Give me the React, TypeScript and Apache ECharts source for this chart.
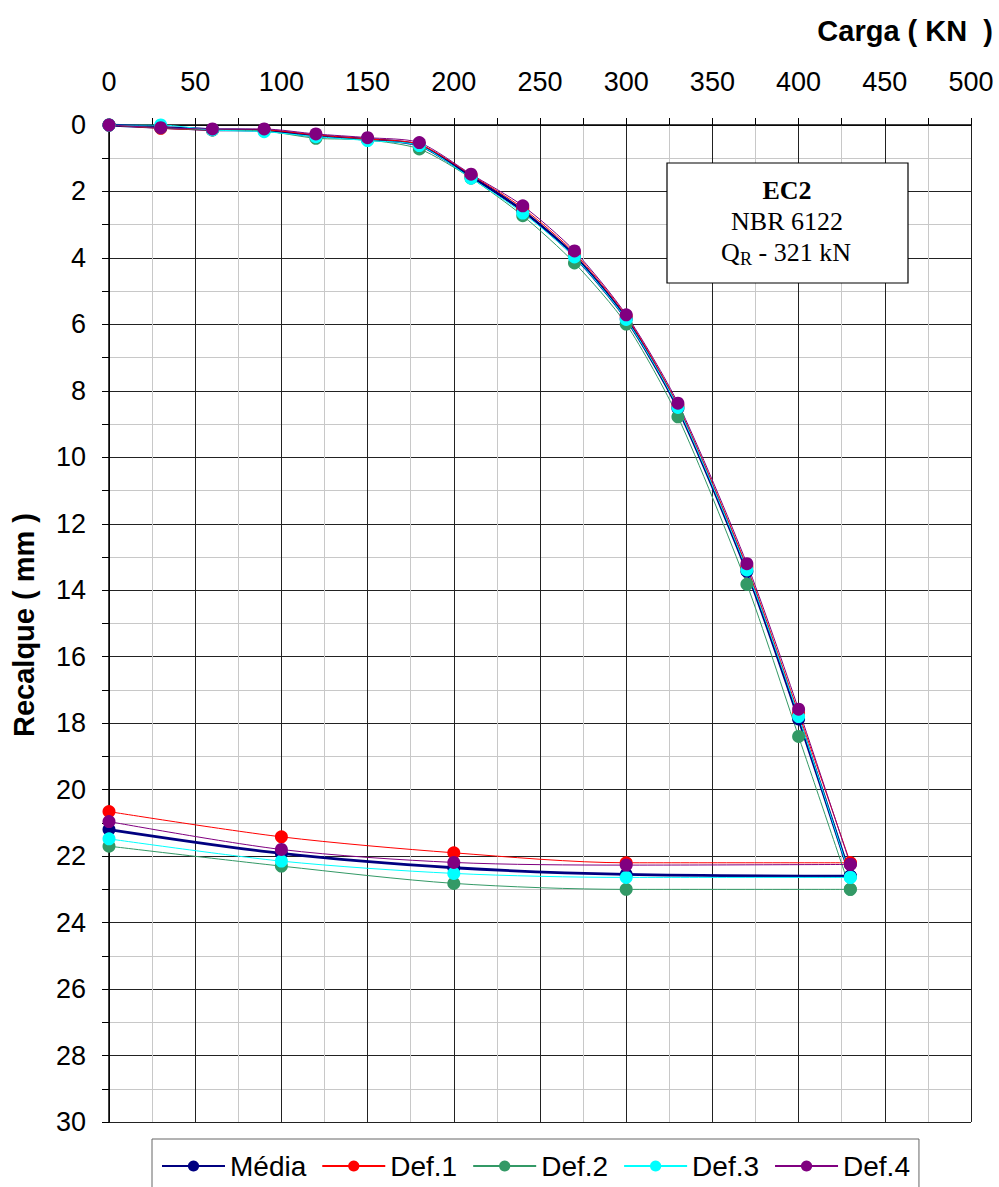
import React, { useEffect, useRef } from "react";
import * as echarts from "echarts";

// Load steps (kN): loading up to 430, then unloading back to 0
const loads = [0, 30, 60, 90, 120, 150, 180, 210, 240, 270, 300, 330, 370, 400, 430, 300, 200, 100, 0];

// Settlement (mm)
const media = [0, 0.07, 0.14, 0.16, 0.33, 0.43, 0.61, 1.55, 2.58, 3.94, 5.83, 8.52, 13.43, 17.87, 22.6, 22.55, 22.35, 21.92, 21.2];
const def1 = [0, 0.1, 0.15, 0.15, 0.3, 0.42, 0.58, 1.5, 2.5, 3.85, 5.75, 8.45, 13.3, 17.7, 22.2, 22.2, 21.9, 21.42, 20.66];
const def2 = [0, 0.08, 0.15, 0.18, 0.4, 0.45, 0.72, 1.6, 2.73, 4.15, 5.99, 8.78, 13.82, 18.4, 23.0, 23.0, 22.82, 22.3, 21.7];
const def3 = [0, 0.0, 0.15, 0.2, 0.35, 0.47, 0.62, 1.6, 2.65, 3.97, 5.85, 8.5, 13.39, 17.8, 22.64, 22.64, 22.52, 22.15, 21.48];
const def4 = [0, 0.08, 0.12, 0.12, 0.27, 0.38, 0.53, 1.48, 2.43, 3.79, 5.71, 8.37, 13.2, 17.58, 22.25, 22.27, 22.19, 21.8, 20.96];

const seriesNames = ["Média", "Def.1", "Def.2", "Def.3", "Def.4"];
const seriesValues = [media, def1, def2, def3, def4];
const seriesColors = ["#000080", "#FF0000", "#339966", "#00FFFF", "#800080"];
const seriesWidths = [2.8, 1, 1, 1, 1];

const TURN_INDEX = 14; // index of the peak load (430 kN)

const annotationLines = ["EC2", "NBR 6122"];
const annotationQ = ["Q", "R", " - 321 kN"];

const xTitle = "Carga ( KN  )";
const yTitle = "Recalque ( mm )";

function segment(values: number[], from: number, to: number) {
  const out: number[][] = [];
  for (let i = from; i <= to; i++) out.push([loads[i], values[i]]);
  return out;
}

export default function App() {
  const ref = useRef<HTMLDivElement>(null);

  useEffect(() => {
    if (!ref.current) return;
    const chart = echarts.init(ref.current, null, { renderer: "svg" });
    const font = "'Liberation Sans', Arial, sans-serif";
    const serif = "'Liberation Serif', 'Times New Roman', serif";

    const series: any[] = [];
    seriesNames.forEach((name, k) => {
      const common = {
        type: "line",
        name,
        symbol: "circle",
        symbolSize: 13,
        color: seriesColors[k],
        lineStyle: { color: seriesColors[k], width: seriesWidths[k] },
        itemStyle: { color: seriesColors[k] },
        emphasis: { disabled: true },
      };
      series.push({ ...common, smooth: 0.25, data: segment(seriesValues[k], 0, TURN_INDEX) });
      series.push({ ...common, smooth: 0.3, data: segment(seriesValues[k], TURN_INDEX, loads.length - 1) });
    });

    chart.setOption({
      animation: false,
      backgroundColor: "#ffffff",
      grid: { left: 109, top: 125, right: 28, bottom: 65, containLabel: false },
      xAxis: {
        type: "value",
        position: "top",
        min: 0,
        max: 500,
        interval: 50,
        axisLine: { show: true, onZero: false, lineStyle: { color: "#000", width: 1.5 } },
        axisTick: { show: true, inside: false, length: 7, lineStyle: { color: "#000" } },
        minorTick: { show: true, splitNumber: 2, length: 7, lineStyle: { color: "#000" } },
        axisLabel: { fontSize: 27, fontFamily: font, color: "#000", margin: 30 },
        splitLine: { show: true, lineStyle: { color: "#222", width: 1 } },
        minorSplitLine: { show: true, lineStyle: { color: "#c8c8c8", width: 1 } },
      },
      yAxis: {
        type: "value",
        inverse: true,
        min: 0,
        max: 30,
        interval: 2,
        axisLine: { show: true, onZero: false, lineStyle: { color: "#000", width: 1.5 } },
        axisTick: { show: true, inside: false, length: 7, lineStyle: { color: "#000" } },
        minorTick: { show: true, splitNumber: 2, length: 7, lineStyle: { color: "#000" } },
        axisLabel: { fontSize: 27, fontFamily: font, color: "#000", margin: 23 },
        splitLine: { show: true, lineStyle: { color: "#222", width: 1 } },
        minorSplitLine: { show: true, lineStyle: { color: "#c8c8c8", width: 1 } },
      },
      legend: {
        data: seriesNames,
        left: 152,
        top: 1139,
        padding: [13, 9, 13, 9],
        itemWidth: 63,
        itemHeight: 14,
        itemGap: 15,
        borderColor: "#666",
        borderWidth: 1,
        backgroundColor: "#fff",
        textStyle: { fontSize: 28, fontFamily: font, color: "#000" },
      },
      graphic: [
        {
          type: "text",
          x: 993,
          y: 31,
          style: {
            text: xTitle,
            font: `bold 29px ${font}`,
            fill: "#000",
            align: "right",
            verticalAlign: "middle",
          },
        },
        {
          type: "text",
          x: 24,
          y: 625,
          rotation: Math.PI / 2,
          style: {
            text: yTitle,
            font: `bold 29px ${font}`,
            fill: "#000",
            align: "center",
            verticalAlign: "middle",
          },
        },
        {
          type: "rect",
          shape: { x: 667, y: 163, width: 241, height: 120 },
          style: { fill: "#fff", stroke: "#000", lineWidth: 1.2 },
          z: 100,
        },
        {
          type: "text",
          x: 787,
          y: 190,
          z: 101,
          style: {
            text: annotationLines[0],
            font: `bold 26px ${serif}`,
            fill: "#000",
            align: "center",
            verticalAlign: "middle",
          },
        },
        {
          type: "text",
          x: 787,
          y: 221,
          z: 101,
          style: {
            text: annotationLines[1],
            font: `26px ${serif}`,
            fill: "#000",
            align: "center",
            verticalAlign: "middle",
          },
        },
        {
          type: "text",
          x: 721,
          y: 252,
          z: 101,
          style: {
            text: annotationQ[0],
            font: `26px ${serif}`,
            fill: "#000",
            align: "left",
            verticalAlign: "middle",
          },
        },
        {
          type: "text",
          x: 740,
          y: 258.5,
          z: 101,
          style: {
            text: annotationQ[1],
            font: `18px ${serif}`,
            fill: "#000",
            align: "left",
            verticalAlign: "middle",
          },
        },
        {
          type: "text",
          x: 752,
          y: 252,
          z: 101,
          style: {
            text: annotationQ[2],
            font: `26px ${serif}`,
            fill: "#000",
            align: "left",
            verticalAlign: "middle",
          },
        },
      ],
      series,
    });

    return () => chart.dispose();
  }, []);

  return (
    <div
      ref={ref}
      style={{ position: "fixed", left: 0, top: 0, width: 999, height: 1187, background: "#fff" }}
    />
  );
}
